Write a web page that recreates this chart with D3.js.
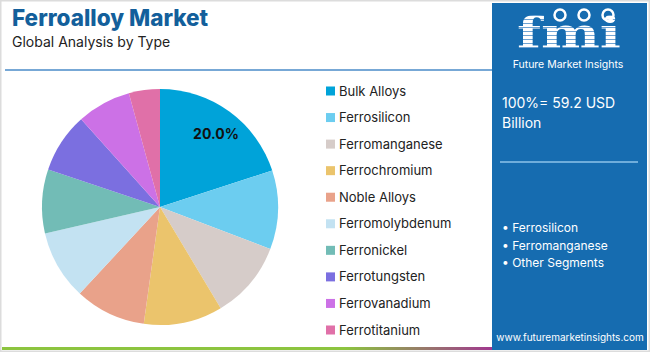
<!DOCTYPE html>
<html>
<head>
<meta charset="utf-8">
<script src="https://cdn.jsdelivr.net/npm/d3@7"></script>
<style>
  body { margin: 0; background: #fff; }
  svg { display: block; font-family: "Inter", "Open Sans", sans-serif; }
</style>
</head>
<body>
<div id="chart"></div>
<script>
// Ferroalloy market share by type
const types = ["Bulk Alloys", "Ferrosilicon", "Ferromanganese", "Ferrochromium", "Noble Alloys",
  "Ferromolybdenum", "Ferronickel", "Ferrotungsten", "Ferrovanadium", "Ferrotitanium"];
const shares = [20.0, 10.8, 10.6, 10.8, 9.7, 9.5, 8.75, 8.2, 7.4, 4.25];
const sliceColors = ["#00a3d9", "#6ccdf0", "#d6ccc9", "#ebc46c", "#e9a28a",
  "#c3e2f2", "#72bcb6", "#7b6fe0", "#cc71e6", "#e070a8"];
const highlights = ["Ferrosilicon", "Ferromanganese", "Other Segments"];
const totalLabel = ["100%= 59.2 USD", "Billion"];

const W = 650, H = 352;
const svg = d3.select("#chart").append("svg")
  .attr("width", W).attr("height", H);
const defs = svg.append("defs");

// frame + bottom accent bar
svg.append("rect").attr("x", 0.5).attr("y", 0.5).attr("width", W - 1).attr("height", H - 1)
  .attr("fill", "#fff").attr("stroke", "#dcdcdc").attr("stroke-width", 2);

const grad = defs.append("linearGradient").attr("id", "barGrad");
grad.append("stop").attr("offset", "0%").attr("stop-color", "#8cc43f");
grad.append("stop").attr("offset", "70%").attr("stop-color", "#8cc43f");
grad.append("stop").attr("offset", "100%").attr("stop-color", "#a1388f");
svg.append("rect").attr("x", 2).attr("y", 347).attr("width", 490).attr("height", 3)
  .attr("fill", "url(#barGrad)");

// title
svg.append("text").attr("x", 12).attr("y", 26)
  .attr("fill", "#135f9b").style("font-size", "22.5px").style("font-weight", 800)
  .text("Ferroalloy Market");
svg.append("text").attr("x", 12).attr("y", 47)
  .attr("fill", "#222").style("font-size", "14px")
  .text("Global Analysis by Type");
svg.append("line").attr("x1", 5).attr("x2", 492).attr("y1", 70).attr("y2", 70)
  .attr("stroke", "#4a8bc8").attr("stroke-width", 1.5);

// pie
const data = types.map((t, i) => ({ type: t, value: shares[i] }));
const color = d3.scaleOrdinal().domain(types).range(sliceColors);
const pie = d3.pie().value(d => d.value).sort(null);
const arc = d3.arc().innerRadius(0).outerRadius(118);
const gPie = svg.append("g").attr("transform", "translate(160,207)");
const arcs = pie(data);
gPie.selectAll("path").data(arcs).join("path")
  .attr("d", arc).attr("fill", d => color(d.data.type));

const labelArc = d3.arc().innerRadius(85).outerRadius(85);
gPie.append("text")
  .attr("transform", `translate(${labelArc.centroid(arcs[0])})`)
  .attr("dx", 6).attr("dy", -3)
  .attr("text-anchor", "middle").attr("dominant-baseline", "middle")
  .style("font-size", "14px").style("font-weight", 700).attr("fill", "#111")
  .text(d3.format(".1f")(shares[0]) + "%");

// legend
const legendY = d3.scalePoint().domain(types).range([91, 330]);
const legend = svg.append("g").selectAll("g").data(types).join("g")
  .attr("transform", d => `translate(326,${legendY(d)})`);
legend.append("rect").attr("x", 0).attr("y", -4.5).attr("width", 9).attr("height", 9)
  .attr("fill", d => color(d));
legend.append("text").attr("x", 13).attr("dy", "0.35em")
  .style("font-size", "13px").attr("fill", "#222").text(d => d);

// right panel
const panel = svg.append("g");
panel.append("rect").attr("x", 492).attr("y", 3).attr("width", 155).attr("height", 347)
  .attr("fill", "#166cb0");

// logo: striped "fmi"
const pat = defs.append("pattern").attr("id", "stripes")
  .attr("patternUnits", "userSpaceOnUse").attr("width", 4).attr("height", 4);
pat.append("rect").attr("width", 4).attr("height", 4).attr("fill", "#fff");
pat.append("rect").attr("y", 3).attr("width", 4).attr("height", 1).attr("fill", "#6fa3d2");
panel.append("text").attr("x", 569).attr("y", 48).attr("text-anchor", "middle")
  .attr("textLength", 104).attr("lengthAdjust", "spacingAndGlyphs")
  .style("font-family", "'DejaVu Serif', serif").style("font-size", "42px").style("font-weight", 700)
  .attr("fill", "url(#stripes)").text("fmi");
[[560, 15], [584, 15], [608, 15]].forEach(([cx, cy]) => {
  panel.append("circle").attr("cx", cx).attr("cy", cy).attr("r", 5.5)
    .attr("fill", "none").attr("stroke", "#fff").attr("stroke-width", 2.5);
});
panel.append("text").attr("x", 568).attr("y", 68).attr("text-anchor", "middle")
  .style("font-size", "10.5px").attr("fill", "#fff").text("Future Market Insights");

panel.selectAll("text.total").data(totalLabel).join("text").attr("class", "total")
  .attr("x", 502).attr("y", (d, i) => 108 + i * 20)
  .style("font-size", "14px").attr("fill", "#fff").text(d => d);
panel.append("line").attr("x1", 500).attr("x2", 638).attr("y1", 162).attr("y2", 162)
  .attr("stroke", "#8ec3ea").attr("stroke-width", 1.5);
panel.selectAll("text.hl").data(highlights).join("text").attr("class", "hl")
  .attr("x", 502).attr("y", (d, i) => 232 + i * 17.5)
  .style("font-size", "12px").attr("fill", "#fff").text(d => "\u2022 " + d);
panel.append("text").attr("x", 570).attr("y", 341).attr("text-anchor", "middle")
  .style("font-size", "10px").attr("fill", "#fff").text("www.futuremarketinsights.com");
</script>
</body>
</html>
